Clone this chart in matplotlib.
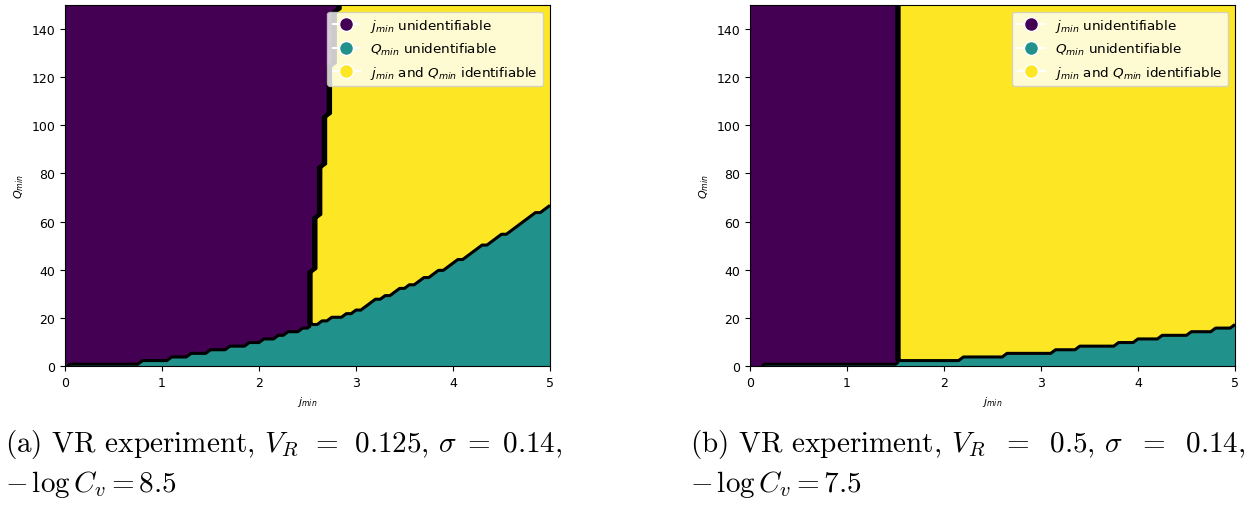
import numpy as np
import matplotlib
matplotlib.use('Agg')
import matplotlib.pyplot as plt
from matplotlib.lines import Line2D

# grid of the parameter scan
j_min = np.linspace(0, 5, 101)
Q_min = np.linspace(0, 150, 101)

# (a) columns per level of "Q_min unidentifiable" rows (level = index)
teal_widths_a = [1, 15, 6, 4, 4, 4, 4, 3, 3, 2, 3, 2,
                 2, 2, 3, 2, 2, 1, 1, 2, 2, 1, 2, 2, 1, 2, 1, 2, 1, 1, 2, 1,
                 1, 1, 2, 1, 1, 2, 1, 1, 1, 1, 1, 2, 1, 1]
# (a) number of "j_min unidentifiable" columns per row, run-length
purple_cols_a = [51, 52, 53, 54, 55, 56, 57]
purple_rows_a = [27, 15, 14, 14, 14, 15, 2]

# (b)
teal_widths_b = [3, 28, 13, 9, 10, 5, 8, 4, 5, 6, 5, 4, 1]
purple_cols_b = [31]
purple_rows_b = [101]

captions = [
    (r'(a) VR experiment, $V_R\;\,=\;\,0.125$, $\sigma\;=\;0.14$,', r'$-\,\log C_v = 8.5$'),
    (r'(b) VR experiment, $V_R\ \;=\ \;0.5$, $\sigma\ \;=\ \;0.14$,', r'$-\,\log C_v = 7.5$'),
]
labels = [r'$j_{min}$ unidentifiable', r'$Q_{min}$ unidentifiable',
          r'$j_{min}$ and $Q_{min}$ identifiable']


def classify(teal_w, p_cols, p_rows):
    teal_rows = np.repeat(np.arange(len(teal_w)), teal_w)
    purple = np.repeat(p_cols, p_rows)
    r = np.arange(len(Q_min))[:, None]
    c = np.arange(len(j_min))[None, :]
    Z = np.where(c < purple[:, None], 0, 2)
    Z = np.where(r < teal_rows[None, :], 1, Z)
    return Z


fig = plt.figure(figsize=(12.5, 5.06), dpi=100)
cmap = plt.get_cmap('viridis')
handles = [Line2D([0], [0], marker='o', color='w', markerfacecolor=cmap(v),
                  markersize=10, label=l) for v, l in zip([0.0, 0.5, 1.0], labels)]

panels = [(0.052, classify(teal_widths_a, purple_cols_a, purple_rows_a)),
          (0.6, classify(teal_widths_b, purple_cols_b, purple_rows_b))]

for i, (x0, Z) in enumerate(panels):
    ax = fig.add_axes([x0, 0.2747, 0.388, 0.7134])
    ax.contourf(j_min, Q_min, Z, levels=[-0.5, 0.5, 1.5, 2.5], cmap='viridis', vmin=0, vmax=2)
    ax.contour(j_min, Q_min, Z, levels=[0.5, 1.5], colors='k', linewidths=2.2)
    ax.set_xlim(0, 5)
    ax.set_ylim(0, 150)
    ax.tick_params(labelsize=9)
    ax.set_xlabel(r'$j_{min}$', fontsize=8)
    ax.set_ylabel(r'$Q_{min}$', fontsize=8)
    ax.legend(handles=handles, loc='upper right', fontsize=9.7)

    cx = [0.004, 0.552][i]
    fig.text(cx, 0.107, captions[i][0], fontsize=21, family='cmr10', math_fontfamily='cm')
    fig.text(cx, 0.028, captions[i][1], fontsize=21, family='cmr10', math_fontfamily='cm')

fig.savefig('out.png', dpi=100)
